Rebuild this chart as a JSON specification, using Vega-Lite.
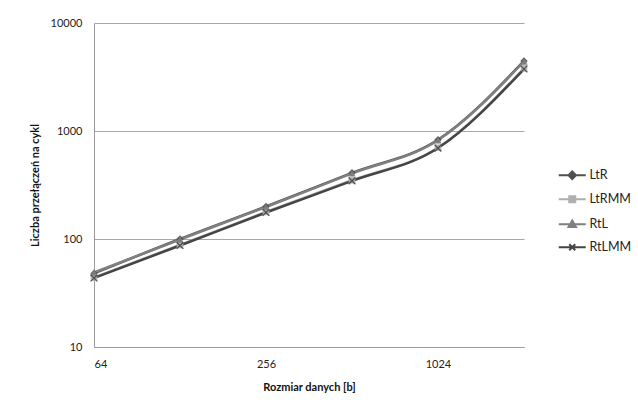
{
  "$schema": "https://vega.github.io/schema/vega-lite/v6.json",
  "width": 430,
  "height": 324,
  "autosize": {"type": "none"},
  "padding": {"left": 94, "top": 23, "right": 114, "bottom": 61},
  "background": "white",
  "config": {
    "view": {"stroke": null},
    "font": "Lato",
    "axis": {"labelFont": "Lato", "titleFont": "Lato", "labelColor": "#222", "titleColor": "#111"},
    "legend": {
      "orient": "none",
      "legendX": 472,
      "legendY": 146,
      "symbolSize": 100,
      "rowPadding": 9,
      "labelOffset": 11,
      "labelFontSize": 12.5,
      "labelFont": "Lato",
      "labelColor": "#222"
    }
  },
  "data": {
    "values": [
      {"size": 64, "value": 48, "series": "LtR"},
      {"size": 128, "value": 100, "series": "LtR"},
      {"size": 256, "value": 200, "series": "LtR"},
      {"size": 512, "value": 410, "series": "LtR"},
      {"size": 1024, "value": 830, "series": "LtR"},
      {"size": 2048, "value": 4450, "series": "LtR"},
      {"size": 64, "value": 44, "series": "LtRMM"},
      {"size": 128, "value": 88, "series": "LtRMM"},
      {"size": 256, "value": 178, "series": "LtRMM"},
      {"size": 512, "value": 350, "series": "LtRMM"},
      {"size": 1024, "value": 700, "series": "LtRMM"},
      {"size": 2048, "value": 3800, "series": "LtRMM"},
      {"size": 64, "value": 49, "series": "RtL"},
      {"size": 128, "value": 99, "series": "RtL"},
      {"size": 256, "value": 198, "series": "RtL"},
      {"size": 512, "value": 405, "series": "RtL"},
      {"size": 1024, "value": 820, "series": "RtL"},
      {"size": 2048, "value": 4400, "series": "RtL"},
      {"size": 64, "value": 43.5, "series": "RtLMM"},
      {"size": 128, "value": 87, "series": "RtLMM"},
      {"size": 256, "value": 176, "series": "RtLMM"},
      {"size": 512, "value": 345, "series": "RtLMM"},
      {"size": 1024, "value": 695, "series": "RtLMM"},
      {"size": 2048, "value": 3750, "series": "RtLMM"}
    ]
  },
  "encoding": {
    "x": {
      "field": "size",
      "type": "quantitative",
      "scale": {"type": "log", "base": 2, "domain": [64, 2048], "nice": false},
      "axis": {
        "values": [64, 256, 1024],
        "format": "d",
        "grid": false,
        "ticks": false,
        "domainColor": "#9a9a9a",
        "labelFontSize": 11,
        "labelPadding": 11,
        "title": "Rozmiar danych [b]",
        "titleFontSize": 11,
        "titleFontWeight": "bold",
        "titlePadding": 12
      }
    },
    "y": {
      "field": "value",
      "type": "quantitative",
      "scale": {"type": "log", "domain": [10, 10000], "nice": false},
      "axis": {
        "values": [10, 100, 1000, 10000],
        "format": "d",
        "grid": true,
        "gridColor": "#a8a8a8",
        "gridWidth": 1,
        "ticks": false,
        "domainColor": "#9a9a9a",
        "labelFontSize": 11,
        "labelPadding": 12,
        "title": "Liczba przełączeń na cykl",
        "titleFontSize": 11,
        "titleFontWeight": "bold",
        "titlePadding": 10
      }
    }
  },
  "layer": [
    {
      "mark": {"type": "line", "interpolate": "monotone", "strokeWidth": 2.5},
      "encoding": {
        "color": {
          "field": "series",
          "type": "nominal",
          "title": null,
          "scale": {
            "domain": ["LtR", "LtRMM", "RtL", "RtLMM"],
            "range": ["#505050", "#b0b0b0", "#808080", "#454545"]
          },
          "legend": {
            "title": null,
            "encode": {
              "symbols": {
                "update": {
                  "shape": {"signal": "datum.value === 'LtR' ? 'M-2.7,0H2.7M0,-0.75L0.75,0L0,0.75L-0.75,0Z' : datum.value === 'LtRMM' ? 'M-2.7,0H2.7M-0.6,-0.6H0.6V0.6H-0.6Z' : datum.value === 'RtL' ? 'M-2.7,0H2.7M0,-0.75L0.75,0.55L-0.75,0.55Z' : 'M-2.7,0H2.7M-0.6,-0.6L0.6,0.6M0.6,-0.6L-0.6,0.6'"},
                  "fill": {"signal": "scale('color', datum.value)"},
                  "stroke": {"signal": "scale('color', datum.value)"},
                  "strokeWidth": {"value": 2},
                  "opacity": {"value": 1}
                }
              }
            }
          }
        }
      }
    },
    {
      "transform": [{"filter": "datum.series === 'LtR'"}],
      "mark": {"type": "point", "shape": "diamond", "filled": true, "size": 55, "color": "#505050", "opacity": 0.9}
    },
    {
      "transform": [{"filter": "datum.series === 'LtRMM'"}],
      "mark": {"type": "point", "shape": "square", "filled": true, "size": 45, "color": "#b0b0b0", "opacity": 0.9}
    },
    {
      "transform": [{"filter": "datum.series === 'RtL'"}],
      "mark": {"type": "point", "shape": "triangle-up", "filled": true, "size": 55, "color": "#808080", "opacity": 0.9}
    },
    {
      "transform": [{"filter": "datum.series === 'RtLMM'"}],
      "mark": {"type": "point", "shape": "M-1,-1L1,1M1,-1L-1,1", "filled": false, "size": 45, "color": "#454545", "strokeWidth": 1.3, "opacity": 0.9}
    }
  ]
}
